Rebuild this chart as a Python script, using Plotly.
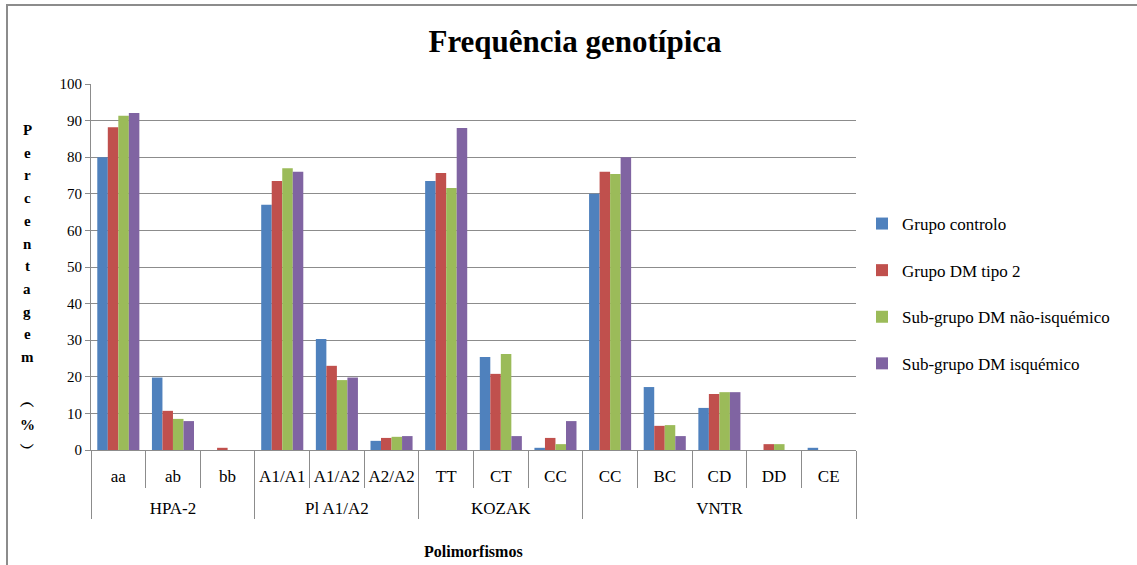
import plotly.graph_objects as go

groups = ["HPA-2"] * 3 + ["Pl A1/A2"] * 3 + ["KOZAK"] * 3 + ["VNTR"] * 5
genotypes = ["aa", "ab", "bb", "A1/A1", "A1/A2", "A2/A2", "TT", "CT", "CC",
             "BC", "CC", "CD", "DD", "CE"]

series_names = ["Grupo controlo", "Grupo DM tipo 2",
                "Sub-grupo DM não-isquémico", "Sub-grupo DM isquémico"]
controlo = [80.0, 19.8, 0.0, 67.0, 30.3, 2.5, 73.5, 25.4, 0.6, 17.2, 70.0, 11.5, 0.0, 0.6]
dm_tipo2 = [88.2, 10.7, 0.6, 73.5, 23.0, 3.3, 75.7, 20.8, 3.3, 6.6, 76.0, 15.3, 1.6, 0.0]
nao_isq = [91.3, 8.5, 0.0, 77.0, 19.1, 3.6, 71.6, 26.2, 1.6, 6.8, 75.4, 15.8, 1.6, 0.0]
isq = [92.1, 7.9, 0.0, 76.0, 19.8, 3.8, 88.0, 3.8, 7.9, 3.8, 80.0, 15.8, 0.0, 0.0]
colors = ["#4F81BD", "#C0504D", "#9BBB59", "#8064A2"]

ytitle_chars = list("Percentagem") + [" ", "︵", "%", "︶"]

SERIF = "Liberation Serif, Times New Roman, serif"
W, H = 1137, 565
L, R, T, B = 91, 281, 84, 115
pw, ph = W - L - R, H - T - B

def px_x(p):
    return (p - L) / pw

def px_y(p):
    return (H - B - p) / ph

# a blank line under each genotype label pushes the group row lower
genotype_labels = [g + "<br> " for g in genotypes]

fig = go.Figure()
for i, (name, vals) in enumerate(zip(series_names, [controlo, dm_tipo2, nao_isq, isq])):
    fig.add_trace(go.Bar(
        x=[groups, genotype_labels], y=vals, name=name,
        marker=dict(color=colors[i], line=dict(width=0)),
        legendgroup=f"g{i}",
    ))

annotations = []
row_h = 22.7
for k, ch in enumerate(ytitle_chars):
    if ch == " ":
        continue
    annotations.append(dict(
        text=f"<b>{ch}</b>", x=px_x(27), y=px_y(130 + k * row_h),
        xref="paper", yref="paper", showarrow=False,
        xanchor="center", yanchor="middle",
        font=dict(family=SERIF, size=15, color="black"),
    ))
annotations.append(dict(
    text="<b>Polimorfismos</b>", x=0.5, y=px_y(551),
    xref="paper", yref="paper", showarrow=False,
    xanchor="center", yanchor="middle",
    font=dict(family=SERIF, size=16, color="black"),
))

fig.update_layout(
    width=W, height=H, autosize=False,
    margin=dict(l=L, r=R, t=T, b=B, pad=0, autoexpand=False),
    paper_bgcolor="white", plot_bgcolor="white",
    font=dict(family=SERIF, size=15, color="black"),
    title=dict(text="<b>Frequência genotípica</b>", x=575 / W, xref="container",
               xanchor="center", y=1 - 41 / H, yref="container", yanchor="middle",
               font=dict(family=SERIF, size=31, color="black")),
    barmode="group", bargap=0.23, bargroupgap=0.0,
    legend=dict(x=px_x(862), xanchor="left", y=px_y(293.5), yanchor="middle",
                font=dict(family=SERIF, size=17, color="black"),
                tracegroupgap=21.5, traceorder="grouped", bgcolor="rgba(0,0,0,0)"),
    annotations=annotations,
    shapes=[dict(type="rect", xref="paper", yref="paper",
                 x0=px_x(7), x1=px_x(1200), y0=px_y(700), y1=px_y(5),
                 line=dict(color="#8c8c8c", width=2), fillcolor="rgba(0,0,0,0)",
                 layer="below")],
)
fig.update_yaxes(range=[0, 100], dtick=10, showgrid=True, gridcolor="#8c8c8c",
                 gridwidth=1, showline=True, linecolor="#8c8c8c", linewidth=1,
                 ticks="outside", ticklen=5, tickcolor="#8c8c8c", zeroline=False,
                 automargin=False,
                 tickfont=dict(family=SERIF, size=15, color="black"))
fig.update_xaxes(type="multicategory", showline=True, linecolor="#8c8c8c", linewidth=1,
                 ticks="outside", tickson="boundaries", ticklen=37, tickcolor="#8c8c8c",
                 ticklabelstandoff=11, automargin=False, tickangle=0,
                 showdividers=True, dividercolor="#8c8c8c", dividerwidth=1,
                 tickfont=dict(family=SERIF, size=17, color="black"))

fig.write_html("out.html", config={"displayModeBar": False},
               post_script="document.body.style.margin='0';")
